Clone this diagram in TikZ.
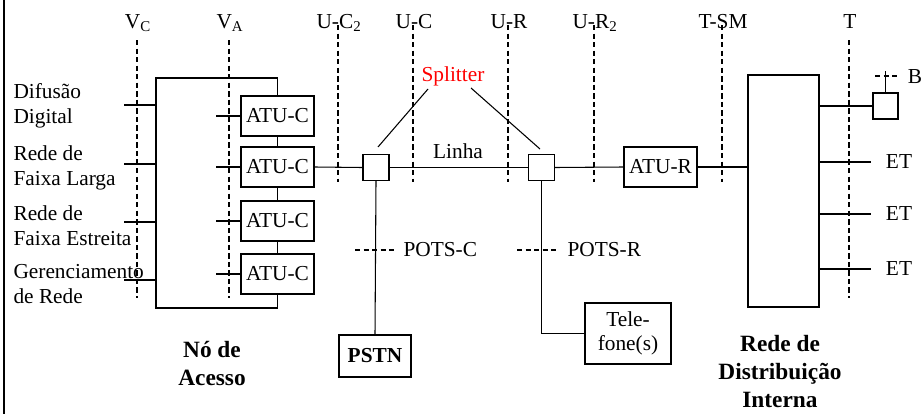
\documentclass[tikz,border=0pt]{standalone}
\usepackage{fontspec}
\setmainfont{Liberation Serif}
\begin{document}
\begin{tikzpicture}[x=0.75pt, y=-0.75pt, line width=0.8pt,
  every node/.style={font=\fontsize{16}{18.75}\selectfont, inner sep=0pt},
  box/.style 2 args={draw, line width=0.9pt, minimum width=#1, minimum height=#2},
  refline/.style={line width=1.4pt, dash pattern=on 4pt off 2.4pt},
  bigtxt/.style={font=\fontsize{17.5}{21}\selectfont\bfseries, align=center}]
\useasboundingbox (0,0) rectangle (924,414);
% left border
\coordinate (bd-t) at (4,0);
\coordinate (bd-b) at (4,414);
\draw[line width=2.2pt] (bd-t) -- (bd-b);
% reference points
\foreach \n/\x/\ya/\yb/\txt in {vc/137/40/298/{V\textsubscript{C}}, va/229/40/298/{V\textsubscript{A}},
    uc2/338/25/182/{U-C\textsubscript{2}}, uc/413/25/182/{U-C}, ur/508/25/182/{U-R},
    ur2/594/25/182/{U-R\textsubscript{2}}, tsm/722/25/182/{T-SM}, t/849/40/298/{T}}{
  \node[anchor=base] (\n-lbl) at (\x+1,28) {\txt};
  \coordinate (\n-top) at (\x,\ya);
  \coordinate (\n-bot) at (\x,\yb);
  \draw[refline] (\n-top) -- (\n-bot);
}
% access node
\foreach \n/\y in {1/116, 2/167, 3/221, 4/274}
  \node[box={54.75pt}{30pt}] (atu\n) at (277.5,\y) {ATU-C};
\foreach \a/\b in {1/2, 2/3, 3/4}
  \draw (atu\a.south) -- (atu\b.north);
\foreach \n in {1,...,4}
  \draw (atu\n.west) -- ++(-24,0);
\coordinate (an-tl) at (156,78);
\coordinate (an-bl) at (156,308);
\draw (atu1.north) |- (an-tl) -- (an-bl) -| (atu4.south);
% services
\foreach \n/\y/\yt/\txt in {1/105/105.5/{Difusão\\Digital}, 2/164/168/{Rede de\\Faixa Larga},
    3/222/226/{Rede de\\Faixa Estreita}, 4/280/284.5/{Gerenciamento\\de Rede}}{
  \node[align=left, anchor=west] (svc\n) at (13,\yt) {\txt};
  \coordinate (in\n) at (124,\y);
  \draw (in\n) -- (in\n -| an-tl);
}
\node[bigtxt] (acc) at (212,364) {Nó de\\Acesso};
% line and splitters
\node[box={19.5pt}{19.5pt}] (sp1) at (376,167.5) {};
\node[box={19.5pt}{19.5pt}] (sp2) at (541.5,167.5) {};
\node[box={54.75pt}{30pt}] (atur) at (660.5,167) {ATU-R};
\node[box={53.25pt}{174pt}] (rdi) at (783.5,191) {};
\draw (atu2.east) -- (sp1.west);
\draw (sp1.east) -- (sp2.west);
\draw (sp2.east) -- (atur.west);
\draw (atur.east) -- (atur.east -| rdi.west);
\node (linha) at (458,151) {Linha};
\node[red] (splt) at (453,76) {Splitter};
\coordinate (spl-a) at (378,147);
\coordinate (spl-b) at (428,89);
\coordinate (spl-c) at (471,88);
\coordinate (spl-d) at (540,149);
\draw (spl-a) -- (spl-b);
\draw (spl-c) -- (spl-d);
% POTS side
\node[box={54pt}{31.5pt}, font=\fontsize{16}{18}\selectfont\bfseries] (pstn) at (375,356) {PSTN};
\draw (sp1.south) -- (pstn.north);
\node[anchor=west] (potsc) at (403,250) {POTS-C};
\coordinate (potsc-l) at (355,250);
\draw[refline] (potsc-l) -- ([xshift=-6pt]potsc.west);
\node[box={64.5pt}{45.75pt}, align=center, font=\fontsize{16}{17.5}\selectfont] (tel) at (628,333.5) {Tele-\\fone(s)};
\draw (sp2.south) |- (tel.west);
\node[anchor=west] (potsr) at (567,250) {POTS-R};
\coordinate (potsr-l) at (517,250);
\draw[refline] (potsr-l) -- ([xshift=-6pt]potsr.west);
% premises side
\node[box={18.75pt}{19.5pt}] (bbox) at (885.5,106) {};
\draw (bbox.west -| rdi.east) -- (bbox.west);
\coordinate (b-top) at (885.5,71);
\draw (bbox.north) -- (b-top);
\coordinate (b-l) at (875,76);
\coordinate (b-r) at (897,76);
\draw[refline] (b-l) -- (b-r);
\node (blbl) at (915,77) {B};
\foreach \n/\y in {1/162, 2/214, 3/269}{
  \node (et\n) at (899,\y) {ET};
  \coordinate (et\n-e) at (871,\y);
  \draw (rdi.east |- et\n-e) -- (et\n-e);
}
\node[bigtxt] (rdilbl) at (780,372) {Rede de\\Distribuição\\Interna};
\end{tikzpicture}
\end{document}
